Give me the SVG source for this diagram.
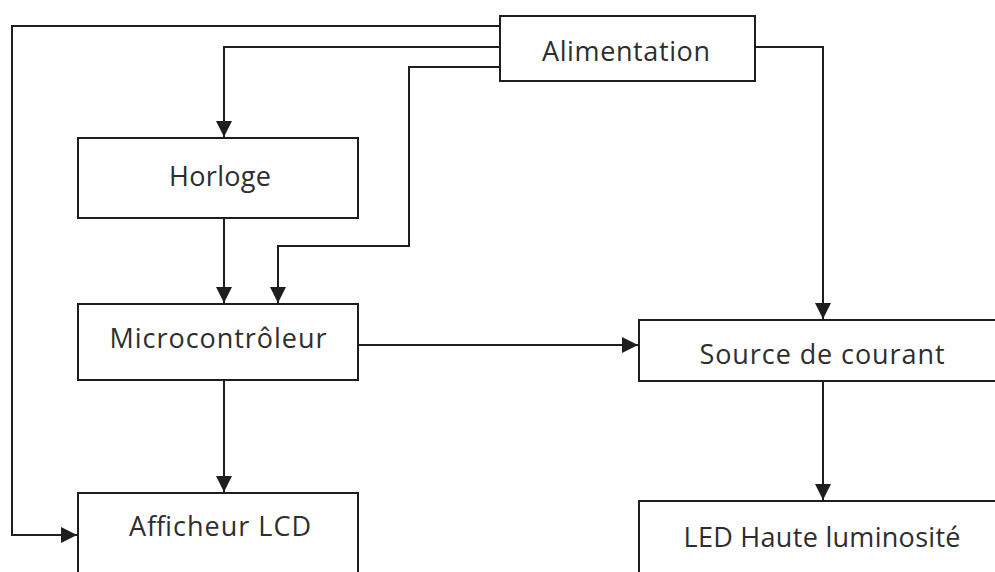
<svg xmlns="http://www.w3.org/2000/svg" width="995" height="572" viewBox="0 0 995 572">
<style>
.box{fill:#ffffff;stroke:#1e1e1e;stroke-width:2}
.lbl{font-family:"Open Sans","Noto Sans",sans-serif;font-size:27px;fill:#2e2e2e;text-anchor:middle}
.wire{fill:none;stroke:#1e1e1e;stroke-width:2}
</style>
<defs>
<marker id="arr" markerUnits="userSpaceOnUse" markerWidth="16" markerHeight="16" refX="16" refY="8" orient="auto" viewBox="0 0 16 16">
<path d="M0,0 L16,8 L0,16 z" fill="#1e1e1e"/>
</marker>
</defs>
<rect width="995" height="572" fill="#ffffff"/>
<g id="connectors">
<path class="wire" d="M500,26 H12 V535 H77" marker-end="url(#arr)"/>
<path class="wire" d="M500,47 H224 V137" marker-end="url(#arr)"/>
<path class="wire" d="M500,67 H409 V246 H278 V303" marker-end="url(#arr)"/>
<path class="wire" d="M755,47 H823 V319" marker-end="url(#arr)"/>
<path class="wire" d="M224,218 V303" marker-end="url(#arr)"/>
<path class="wire" d="M358,345 H638" marker-end="url(#arr)"/>
<path class="wire" d="M224,380 V492" marker-end="url(#arr)"/>
<path class="wire" d="M823,381 V500" marker-end="url(#arr)"/>
</g>
<g id="alimentation">
<rect class="box" x="500" y="16" width="255" height="65"/>
<text class="lbl" x="626" y="61" textLength="168">Alimentation</text>
</g>
<g id="horloge">
<rect class="box" x="78" y="138" width="280" height="80"/>
<text class="lbl" x="220" y="186" textLength="102">Horloge</text>
</g>
<g id="microcontroleur">
<rect class="box" x="78" y="304" width="280" height="76"/>
<text class="lbl" x="218" y="348" textLength="217">Microcontrôleur</text>
</g>
<g id="source">
<rect class="box" x="639" y="320" width="370" height="61"/>
<text class="lbl" x="822" y="364" textLength="245">Source de courant</text>
</g>
<g id="afficheur">
<rect class="box" x="78" y="493" width="280" height="100"/>
<text class="lbl" x="220" y="536" textLength="182">Afficheur LCD</text>
</g>
<g id="led">
<rect class="box" x="639" y="501" width="370" height="100"/>
<text class="lbl" x="822" y="547" textLength="277">LED Haute luminosité</text>
</g>
</svg>
